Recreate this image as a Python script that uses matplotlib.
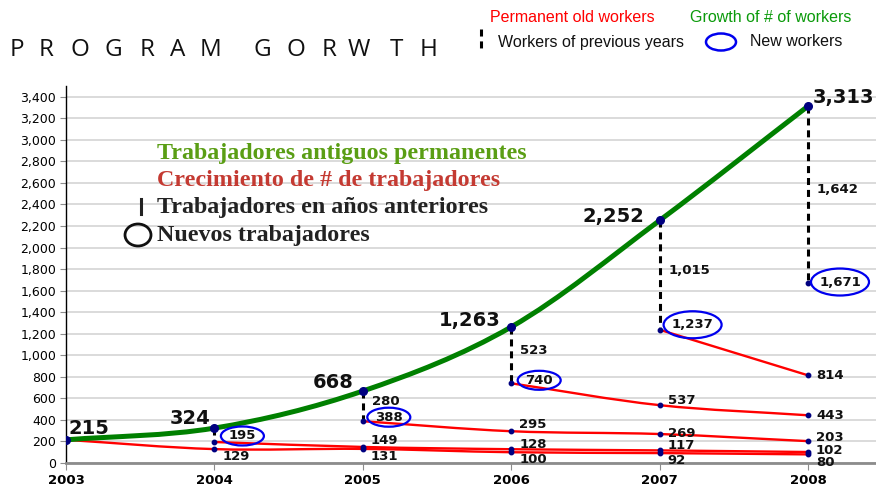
import matplotlib
matplotlib.use('Agg')
import matplotlib.pyplot as plt
import matplotlib.ticker as mticker
from matplotlib.path import Path
from matplotlib.patches import PathPatch, Ellipse
from matplotlib.lines import Line2D
from matplotlib.transforms import ScaledTranslation

# data
years = [2003, 2004, 2005, 2006, 2007, 2008]
total_workers = [215, 324, 668, 1263, 2252, 3313]
new_workers = [215, 195, 388, 740, 1237, 1671]
previous_workers = [0, 129, 280, 523, 1015, 1642]

# each cohort: workers hired in a year, followed through the later years
cohort_start = [2003, 2004, 2005, 2006, 2007, 2008]
cohort_2003 = [215, 129, 131, 100, 92, 80]
cohort_2004 = [195, 149, 128, 117, 102]
cohort_2005 = [388, 295, 269, 203]
cohort_2006 = [740, 537, 443]
cohort_2007 = [1237, 814]
cohort_2008 = [1671]
cohorts = [cohort_2003, cohort_2004, cohort_2005, cohort_2006, cohort_2007, cohort_2008]

ytick_values = list(range(0, 3401, 200))
title = 'PROGRAM GORWTH'

# layout bits (pixels)
title_x = [10, 39, 70, 105, 140, 170, 200, None, 253, 287, 322, 348, 390, 420]
label_dy = {(2003, 2004): -7, (2003, 2005): -8, (2003, 2006): -7, (2003, 2007): -7, (2003, 2008): -8,
            (2004, 2005): 6, (2004, 2006): 5, (2004, 2007): 5, (2004, 2008): 2,
            (2005, 2006): 7, (2005, 2007): 1, (2005, 2008): 4,
            (2006, 2007): 5, (2006, 2008): 0, (2007, 2008): 0}
ring_offsets = {2004: (28, 6, 43, 19), 2005: (26, 4, 43, 19), 2006: (28, 3, 43, 19),
                2007: (33, 5, 58, 27), 2008: (32, 1, 58, 27)}
total_offsets = {2003: (2, 11, 'left'), 2004: (-4, 10, 'right'), 2005: (-9, 9, 'right'),
                 2006: (-11, 6, 'right'), 2007: (-15, 4, 'right'), 2008: (5, 9, 'left')}


def smooth_path(xs, ys):
    # Catmull-Rom style bezier through the points (what a "smoothed line" draws)
    pts = list(zip(xs, ys))
    n = len(pts)
    tang = []
    for i in range(n):
        a = pts[max(i - 1, 0)]
        b = pts[min(i + 1, n - 1)]
        k = 2.0 if 0 < i < n - 1 else 1.0
        tang.append(((b[0] - a[0]) / k, (b[1] - a[1]) / k))
    verts = [pts[0]]
    codes = [Path.MOVETO]
    for i in range(n - 1):
        p0, p1 = pts[i], pts[i + 1]
        c1 = (p0[0] + tang[i][0] / 3, p0[1] + tang[i][1] / 3)
        c2 = (p1[0] - tang[i + 1][0] / 3, p1[1] - tang[i + 1][1] / 3)
        verts += [c1, c2, p1]
        codes += [Path.CURVE4] * 3
    return Path(verts, codes)


fig = plt.figure(figsize=(8.76, 4.88), dpi=100)
ax = fig.add_axes([66 / 876, 1 - 463 / 488, 810 / 876, 377 / 488])
ax.set_xlim(2003, 2003 + 810 / 148.4)
ax.set_ylim(0, 3500)

ax.set_yticks(ytick_values)
ax.yaxis.set_major_formatter(mticker.StrMethodFormatter('{x:,.0f}'))
ax.set_xticks(years)
ax.grid(axis='y', color='#d4d4d4', lw=1.2, zorder=0)
ax.set_axisbelow(True)
for s in ['top', 'right']:
    ax.spines[s].set_visible(False)
ax.spines['left'].set_color('black')
ax.spines['left'].set_linewidth(1)
ax.spines['bottom'].set_color('#8c8c8c')
ax.spines['bottom'].set_linewidth(2)
ax.tick_params(axis='y', length=4, color='#8c8c8c', labelsize=9, pad=3)
ax.tick_params(axis='x', length=5, color='#8c8c8c', labelsize=9.5, pad=3)
for lab in ax.get_xticklabels():
    lab.set_fontweight('bold')

def small(x, y, text, dx, dy, ha='left'):
    ax.annotate(text, (x, y), xytext=(dx, dy), textcoords='offset pixels', ha=ha, va='center',
                fontsize=9.5, fontweight='bold', color='#111111', zorder=6, annotation_clip=False)

# cohort lines (permanent old workers)
for start, vals in zip(cohort_start, cohorts):
    xs = years[years.index(start):years.index(start) + len(vals)]
    if len(vals) > 1:
        ax.add_patch(PathPatch(smooth_path(xs, vals), fill=False, ec='red', lw=1.7, zorder=3))
    ax.plot(xs, vals, 'o', color='#000080', ms=3.2, zorder=5)
    for x, v in zip(xs[1:], vals[1:]):
        small(x, v, f'{v:,}', 8, label_dy.get((start, x), 0))

# dashed lines: workers carried over from previous years
for i in range(1, len(years)):
    ax.plot([years[i], years[i]], [total_workers[i], new_workers[i]], color='black', lw=2.2,
            dashes=(2.3, 1.6), zorder=4)
    if i > 1:
        mid = (total_workers[i] + new_workers[i]) / 2
        small(years[i], mid, f'{previous_workers[i]:,}', 9, 5)

# new workers, circled
for i in range(1, len(years)):
    dx, dy, w, h = ring_offsets[years[i]]
    small(years[i], new_workers[i], f'{new_workers[i]:,}', dx, dy, ha='center')
    tr = fig.dpi_scale_trans + ScaledTranslation(years[i], new_workers[i], ax.transData)
    ax.add_patch(Ellipse((dx / 100, dy / 100), w / 100, h / 100, transform=tr, fill=False,
                         ec='#0000ee', lw=1.6, zorder=6, clip_on=False))

# total growth
ax.add_patch(PathPatch(smooth_path(years, total_workers), fill=False, ec='#008000', lw=3.6,
                       capstyle='round', zorder=4))
ax.plot(years, total_workers, 'o', color='#000080', ms=5.5, zorder=5)
for x, v in zip(years, total_workers):
    dx, dy, ha = total_offsets[x]
    ax.annotate(f'{v:,}', (x, v), xytext=(dx, dy), textcoords='offset pixels', ha=ha, va='center',
                fontsize=14, fontweight='bold', color='#111111', zorder=6, annotation_clip=False)

# title, letter-spaced
for ch, px in zip(title, title_x):
    if px is not None:
        fig.text(px / 876, 1 - 50 / 488, ch, fontsize=17.5, family='Open Sans',
                 va='center', ha='left', color='#111111')

# english legend (top right)
lg = dict(fontsize=11.5, family='Liberation Sans', va='center')
fig.text(490 / 876, 1 - 18 / 488, 'Permanent old workers', color='red', **lg)
fig.text(690 / 876, 1 - 18 / 488, 'Growth of # of workers', color='#0a9a0a', **lg)
fig.text(498 / 876, 1 - 42 / 488, 'Workers of previous years', color='#111111', **lg)
fig.text(750 / 876, 1 - 42 / 488, 'New workers', color='#111111', **lg)
fig.add_artist(Line2D([481 / 876, 481 / 876], [1 - 29 / 488, 1 - 49 / 488], transform=fig.transFigure,
                      color='black', lw=2.2, dashes=(2.3, 1.6)))
fig.add_artist(Ellipse((721 / 100, (488 - 42) / 100), 0.30, 0.17, transform=fig.dpi_scale_trans,
                       fill=False, ec='#0000ee', lw=1.8))

# spanish legend (inside the plot)
sp = dict(fontsize=17.3, family='Liberation Serif', fontweight='bold', va='center', ha='left')
fig.text(157 / 876, 1 - 153 / 488, 'Trabajadores antiguos permanentes', color='#5a9e14', **sp)
fig.text(157 / 876, 1 - 180 / 488, 'Crecimiento de # de trabajadores', color='#c43a32', **sp)
fig.text(157 / 876, 1 - 207 / 488, 'Trabajadores en años anteriores', color='#222222', **sp)
fig.text(157 / 876, 1 - 235 / 488, 'Nuevos trabajadores', color='#222222', **sp)
fig.add_artist(Line2D([141 / 876, 141 / 876], [1 - 199 / 488, 1 - 214 / 488], transform=fig.transFigure,
                      color='#222222', lw=2.2))
fig.add_artist(Ellipse((138 / 100, (488 - 235) / 100), 0.26, 0.22, transform=fig.dpi_scale_trans,
                       fill=False, ec='#111111', lw=2))

fig.savefig('out.png', dpi=100)
